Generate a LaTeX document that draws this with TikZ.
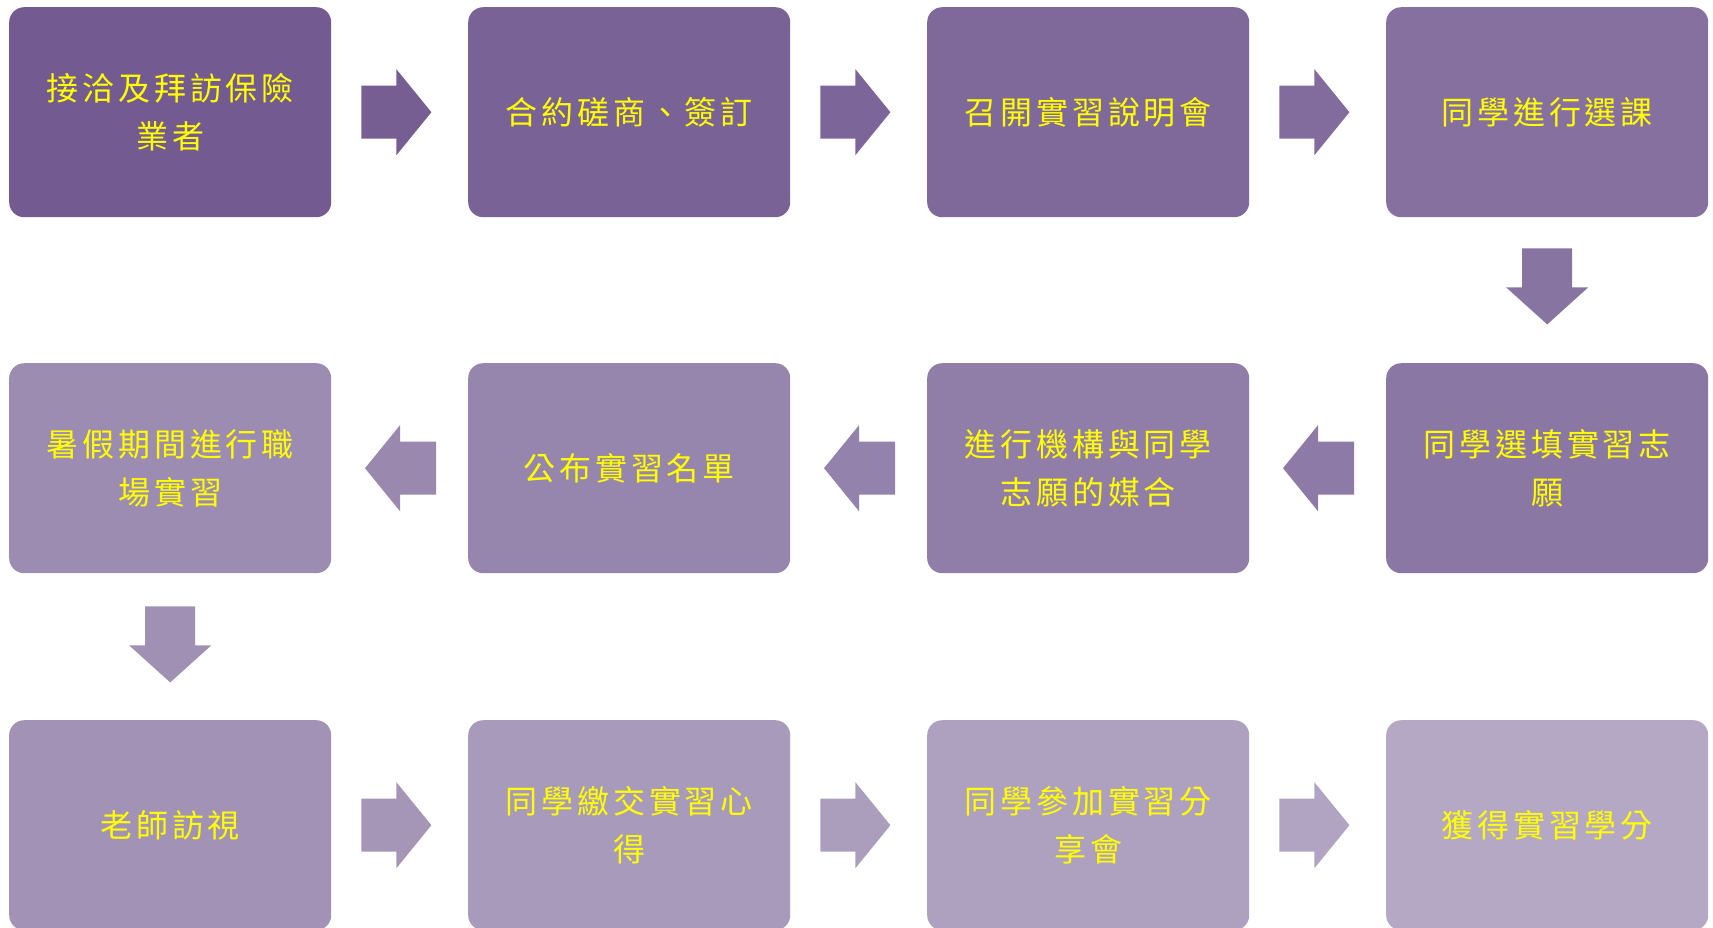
\documentclass[tikz,border=0pt]{standalone}
\usepackage{fontspec}
\newfontfamily\cjk[LetterSpace=12]{Noto Sans CJK TC}
\usetikzlibrary{calc}
\definecolor{cstart}{RGB}{115,91,145}
\definecolor{cend}{RGB}{180,168,196}
\definecolor{txt}{RGB}{255,255,0}
\tikzset{
  stepbox/.style={draw=none, rounded corners=15pt, minimum width=322pt, minimum height=210pt,
    anchor=north west, inner sep=0pt, align=center, text=txt,
    font=\cjk\fontsize{32pt}{48pt}\selectfont},
  pics/rarr/.style={code={\fill[#1] (0,-26.5) -- (35,-26.5) -- (35,-43) -- (70,0) -- (35,43) -- (35,26.5) -- (0,26.5) -- cycle;}},
  pics/larr/.style={code={\fill[#1] (0,-26.5) -- (-36,-26.5) -- (-36,-43) -- (-71,0) -- (-36,43) -- (-36,26.5) -- (0,26.5) -- cycle;}},
  pics/darr/.style={code={\fill[#1] (-25,0) -- (-25,39) -- (-41,39) -- (0,76) -- (41,39) -- (25,39) -- (25,0) -- cycle;}},
}
\begin{document}
\begin{tikzpicture}[x=1pt,y=-1pt]
\useasboundingbox (0,0) rectangle (1713,927);
% row 1
\node[stepbox, fill=cend!0!cstart]    (b1) at (9,7)    {接洽及拜訪保險\\業者};
\node[stepbox, fill=cend!9.1!cstart]  (b2) at (468,7)  {合約磋商、簽訂};
\node[stepbox, fill=cend!18.2!cstart] (b3) at (927,7)  {召開實習說明會};
\node[stepbox, fill=cend!27.3!cstart] (b4) at (1386,7) {同學進行選課};
% row 2
\node[stepbox, fill=cend!36.4!cstart] (b5) at (1386,363) {同學選填實習志\\願};
\node[stepbox, fill=cend!45.5!cstart] (b6) at (927,363)  {進行機構與同學\\志願的媒合};
\node[stepbox, fill=cend!54.5!cstart] (b7) at (468,363)  {公布實習名單};
\node[stepbox, fill=cend!63.6!cstart] (b8) at (9,363)    {暑假期間進行職\\場實習};
% row 3
\node[stepbox, fill=cend!72.7!cstart] (b9)  at (9,720)    {老師訪視};
\node[stepbox, fill=cend!81.8!cstart] (b10) at (468,720)  {同學繳交實習心\\得};
\node[stepbox, fill=cend!90.9!cstart] (b11) at (927,720)  {同學參加實習分\\享會};
\node[stepbox, fill=cend!100!cstart]  (b12) at (1386,720) {獲得實習學分};
% connectors
\pic at ($(b1.east)+(30,0)$) {rarr={cend!4.5!cstart}};
\pic at ($(b2.east)+(30,0)$) {rarr={cend!13.6!cstart}};
\pic at ($(b3.east)+(30,0)$) {rarr={cend!22.7!cstart}};
\pic at ($(b4.south)+(0,31)$) {darr={cend!31.8!cstart}};
\pic at ($(b5.west)+(-32,0)$) {larr={cend!40.9!cstart}};
\pic at ($(b6.west)+(-32,0)$) {larr={cend!50!cstart}};
\pic at ($(b7.west)+(-32,0)$) {larr={cend!59.1!cstart}};
\pic at ($(b8.south)+(0,33)$) {darr={cend!68.2!cstart}};
\pic at ($(b9.east)+(30,0)$) {rarr={cend!77.3!cstart}};
\pic at ($(b10.east)+(30,0)$) {rarr={cend!86.4!cstart}};
\pic at ($(b11.east)+(30,0)$) {rarr={cend!95.5!cstart}};
\end{tikzpicture}
\end{document}
